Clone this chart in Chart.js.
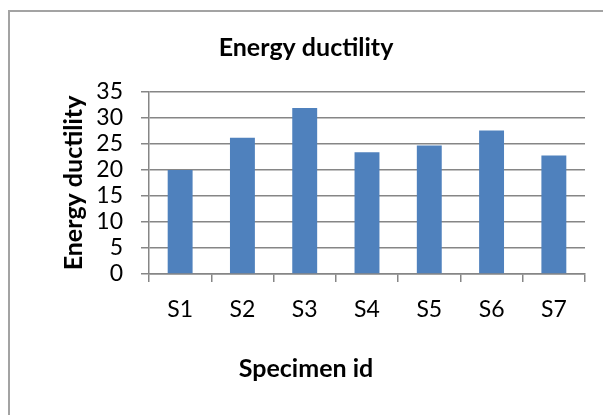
<!DOCTYPE html>
<html>
<head>
<meta charset="utf-8">
<script src="https://cdn.jsdelivr.net/npm/chart.js@4.4.0/dist/chart.umd.min.js"></script>
<style>
  html, body { margin: 0; padding: 0; overflow: hidden; background: #fff; }
  #wrap { position: relative; width: 603px; height: 415px; }
  #frame { position: absolute; left: 8px; top: 10px; width: 700px; height: 500px; border: 2px solid #a3a3a3; box-sizing: border-box; }
  canvas { position: absolute; left: 0; top: 0; }
</style>
</head>
<body>
<div id="wrap">
  <div id="frame"></div>
  <canvas id="ductilityChart" width="603" height="415"></canvas>
</div>
<script>
var specimens = ["S1", "S2", "S3", "S4", "S5", "S6", "S7"];
var energyDuctility = [20.0, 26.2, 31.9, 23.4, 24.7, 27.6, 22.8];

var gridGrey = "#868686";

Chart.defaults.font.family = "Lato, 'Open Sans', sans-serif";
Chart.defaults.color = "#000";

var ctx = document.getElementById("ductilityChart").getContext("2d");

var data = {
    labels: specimens,
    datasets: [
        {
            label: "Energy ductility",
            backgroundColor: "#4f81bd",
            borderWidth: 0,
            categoryPercentage: 1.0,
            barPercentage: 0.4,
            data: energyDuctility
        }
    ]
};

var options = {
    responsive: false,
    animation: false,
    layout: {
        padding: { left: 27, right: 18, top: 0, bottom: 0 }
    },
    scales: {
        x: {
            grid: {
                drawOnChartArea: false,
                drawTicks: true,
                tickLength: 8,
                color: gridGrey,
                lineWidth: 1.5
            },
            border: { display: true, color: gridGrey, width: 1.5 },
            ticks: {
                font: { size: 23 },
                padding: 14,
                autoSkip: false
            },
            afterFit: function (scale) { scale.height = 80; }
        },
        y: {
            min: 0,
            max: 35,
            ticks: {
                stepSize: 5,
                font: { size: 23 },
                padding: 18,
                autoSkip: false
            },
            grid: {
                color: gridGrey,
                lineWidth: 1.5,
                tickLength: 8
            },
            border: { display: true, color: gridGrey, width: 1.5 },
            title: {
                display: true,
                text: "Energy ductility",
                font: { size: 25, weight: "bold" },
                padding: { top: 32, bottom: 0 }
            },
            afterFit: function (scale) { scale.width = 122; }
        }
    },
    plugins: {
        legend: { display: false },
        tooltip: { enabled: false },
        title: {
            display: true,
            text: "Energy ductility",
            font: { size: 25, weight: "bold" },
            padding: { top: 33, bottom: 29 }
        },
        subtitle: {
            display: true,
            position: "bottom",
            text: "Specimen id",
            color: "#000",
            font: { size: 25, weight: "bold" },
            padding: { top: 0, bottom: 31 }
        }
    }
};

var barChart = new Chart(ctx, {
    type: "bar",
    data: data,
    options: options
});
</script>
</body>
</html>
